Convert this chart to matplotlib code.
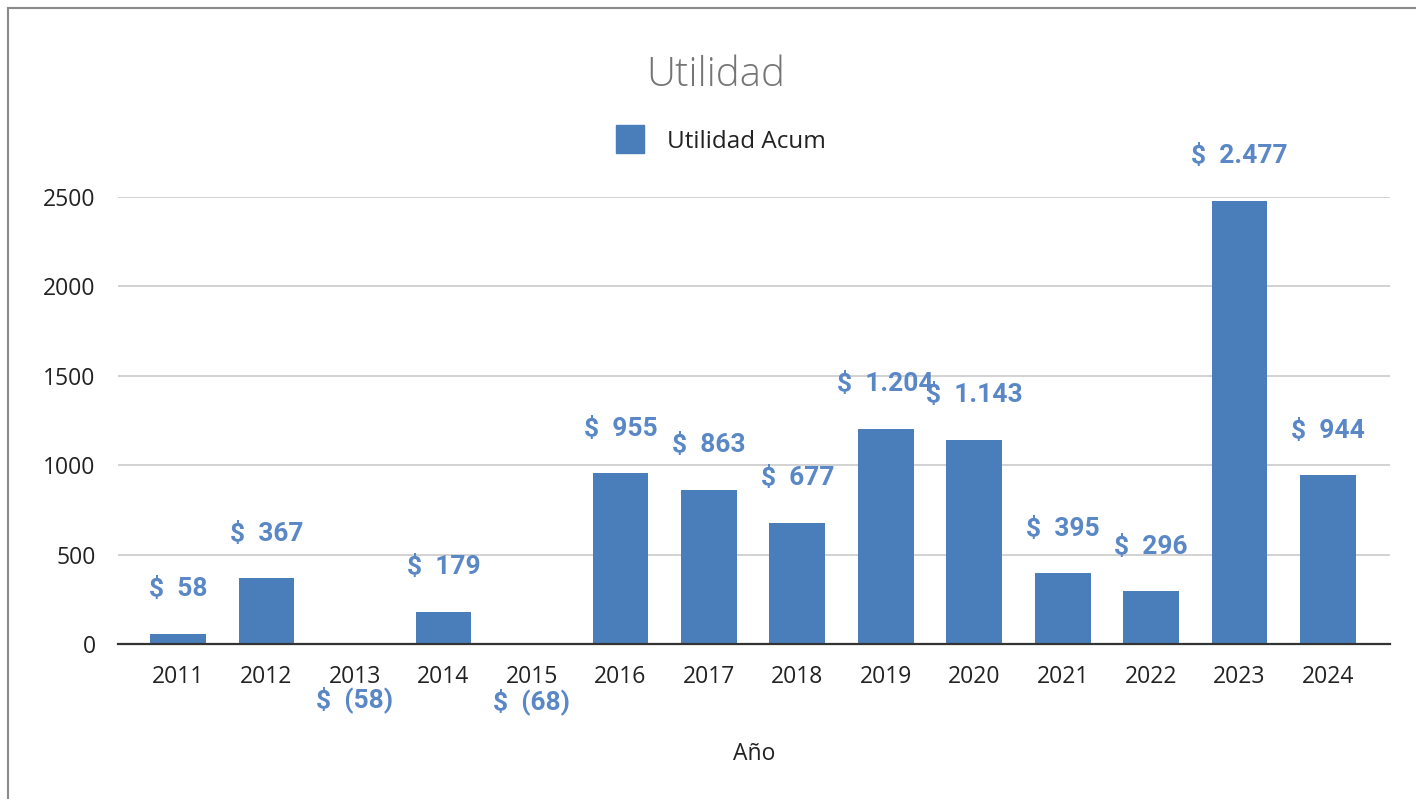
import matplotlib
matplotlib.use('Agg')
import matplotlib.pyplot as plt
from matplotlib.lines import Line2D

anios = ['2011', '2012', '2013', '2014', '2015', '2016', '2017',
         '2018', '2019', '2020', '2021', '2022', '2023', '2024']
utilidad = [58, 367, -58, 179, -68, 955, 863, 677, 1204, 1143, 395, 296, 2477, 944]
y_ticks = [0, 500, 1000, 1500, 2000, 2500]

bar_color = '#4a7ebb'
label_color = '#5a87c6'

plt.rcParams['font.family'] = ['Open Sans', 'DejaVu Sans']


def fmt(v):
    # formato contable: separador de miles '.' y negativos entre parentesis
    s = '{:,}'.format(abs(v)).replace(',', '.')
    return '$  (%s)' % s if v < 0 else '$  %s' % s


fig = plt.figure(figsize=(14.16, 7.99), dpi=100)
ax = fig.add_axes([0.0833, 0.194, 0.8983, 0.5596])

x = list(range(len(anios)))
ax.bar(x, utilidad, width=0.63, color=bar_color, zorder=3)

ax.set_ylim(0, 2500)
ax.set_xlim(-0.68, 13.70)
ax.set_yticks(y_ticks)
ax.set_xticks(x)
ax.set_xticklabels(anios)
ax.tick_params(axis='both', length=0, labelsize=16.5, colors='#222222')
ax.tick_params(axis='x', pad=15)
ax.tick_params(axis='y', pad=16)

ax.grid(axis='y', color='#cfcfcf', lw=1.3, zorder=0)
for s in ['top', 'right', 'left']:
    ax.spines[s].set_visible(False)
ax.spines['bottom'].set_color('#333333')
ax.spines['bottom'].set_linewidth(1.6)
ax.spines['bottom'].set_zorder(4)

for i, v in enumerate(utilidad):
    if v >= 0:
        ax.annotate(fmt(v), (i, v), xytext=(0, 27), textcoords='offset points',
                    ha='center', va='baseline', fontsize=19, fontweight='bold',
                    color=label_color, family=['Roboto', 'DejaVu Sans'],
                    annotation_clip=False, zorder=5)
    else:
        ax.annotate(fmt(v), (i, v), xytext=(0, -38), textcoords='offset points',
                    ha='center', va='baseline', fontsize=19, fontweight='bold',
                    color=label_color, family=['Roboto', 'DejaVu Sans'],
                    annotation_clip=False, zorder=5)

ax.set_xlabel('Año', fontsize=16.5, color='#222222', labelpad=38)

fig.text(716 / 1416, 1 - 75 / 799, 'Utilidad', ha='center', va='center',
         fontsize=29, color='#757575', fontweight='light')

handle = Line2D([], [], marker='s', ls='none', markersize=20,
                markerfacecolor=bar_color, markeredgecolor=bar_color)
fig.legend([handle], ['Utilidad Acum'], loc='center',
           bbox_to_anchor=(716 / 1416, 1 - 142 / 799), frameon=False,
           fontsize=17.5, handletextpad=0.5, labelcolor='#222222')

# marco de la captura
fig.add_artist(Line2D([8 / 1416, 1], [1 - 8 / 799, 1 - 8 / 799], color='#8a8a8a', lw=1.5))
fig.add_artist(Line2D([8 / 1416, 8 / 1416], [0, 1 - 8 / 799], color='#8a8a8a', lw=1.5))

fig.savefig('out.png', dpi=100, facecolor='white')
